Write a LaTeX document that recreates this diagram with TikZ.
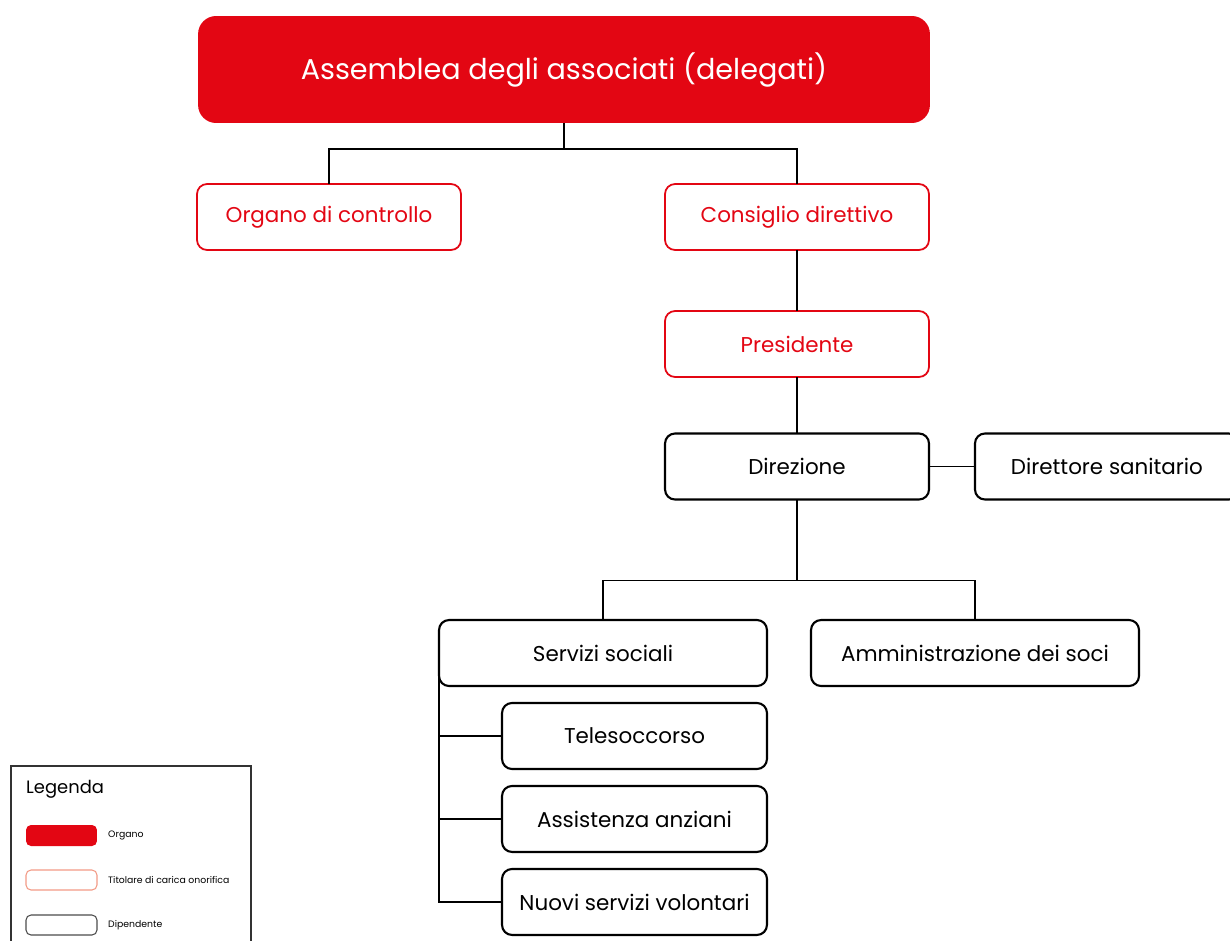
\documentclass[tikz,border=0pt]{standalone}
\usepackage{fontspec}
\setmainfont{Poppins}
\usetikzlibrary{positioning, calc}
\definecolor{rosso}{HTML}{E30613}
\definecolor{salmone}{HTML}{F29A85}

\begin{document}
\begin{tikzpicture}[x=0.02cm, y=-0.02cm, node distance = 3.4mm and 9.2mm,
box/.style= {rectangle, rounded corners= 2mm, align=center, outer sep=0pt, minimum width=52.8mm, minimum height=13.2mm, font=\fontsize{12.2}{14}\selectfont},
organo/.style= {box, fill=rosso, text=white, rounded corners=3.6mm},
carica/.style= {box, draw=rosso, line width=1pt, text=rosso},
dip/.style= {box, draw=black, line width=1.2pt},
conn/.style= {line width=1.1pt},
legtxt/.style= {anchor=west, font=\fontsize{5.3}{7}\selectfont} ]
\useasboundingbox (0,0) rectangle (1230,940);
\node (A) [organo, minimum width=146.4mm, minimum height=21.4mm, font=\fontsize{16.3}{20}\selectfont] at (564,69.5) {Assemblea degli associati (delegati)};
\node (OC) [carica] at (329,217) {Organo di controllo};
\node (CD) [carica] at (797,217) {Consiglio direttivo};
\node (P) [carica] at (797,344) {Presidente};
\node (D) [dip] at (797,466.5) {Direzione};
\node (DS) [dip, right = of D] {Direttore sanitario};
\node (SS) [dip, minimum width=65.6mm] at (603,653) {Servizi sociali};
\node (AD) [dip, minimum width=65.6mm] at (975,653) {Amministrazione dei soci};
\node (T) [dip, minimum width=53mm, below = of SS, xshift=6.3mm] {Telesoccorso};
\node (AA) [dip, minimum width=53mm, below = of T] {Assistenza anziani};
\node (NS) [dip, minimum width=53mm, below = of AA] {Nuovi servizi volontari};
% connettori
\draw[conn] (A.south) -- ++(0,26) coordinate (a1);
\draw[conn] (OC.north) |- (a1) -| (CD.north);
\draw[conn] (CD) -- (P);
\draw[conn] (P) -- (D);
\draw[conn] (D) -- (DS);
\draw[conn] (D.south) -- ++(0,81) coordinate (d1);
\draw[conn] (SS.north) |- (d1) -| (AD.north);
\draw[conn] (SS.west) |- (NS.west);
\draw[conn] (SS.west) |- (T.west);
\draw[conn] (SS.west) |- (AA.west);
% legenda
\draw[line width=0.8pt, draw=black!80] (11,766) rectangle (251,960);
\node (L) [anchor=west, font=\fontsize{10.2}{13}\selectfont] at (20,789) {Legenda};
\node (LO) [fill=rosso, rounded corners=1mm, minimum width=14.2mm, minimum height=4.2mm] at (61.5,835.5) {};
\node (LC) [draw=salmone, line width=0.6pt, rounded corners=1mm, minimum width=14.2mm, minimum height=4mm] at (61.5,880) {};
\node (LD) [draw=black!70, line width=0.6pt, rounded corners=1mm, minimum width=14.2mm, minimum height=4mm] at (61.5,925) {};
\node [legtxt] at (102,835.5) {Organo};
\node [legtxt] at (102,880) {Titolare di carica onorifica};
\node [legtxt] at (102,925) {Dipendente};
\end{tikzpicture}
\end{document}
